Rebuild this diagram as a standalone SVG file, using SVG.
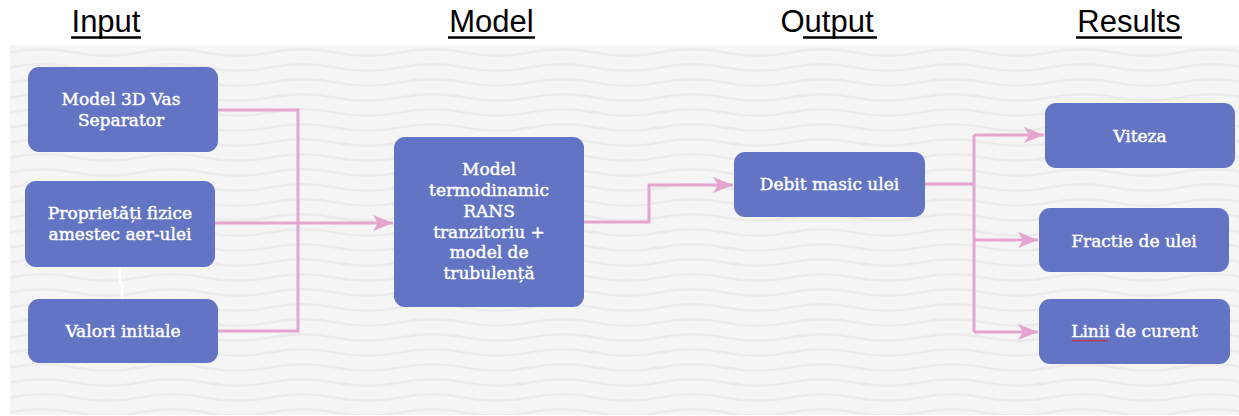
<svg xmlns="http://www.w3.org/2000/svg" width="1239" height="416" viewBox="0 0 1239 416">
  <style>
    .hdr { font-family: "Liberation Sans", Arial, sans-serif; font-size: 31px; fill: #000; text-anchor: middle; }
    .ul { stroke: #000; stroke-width: 2.5; }
    .box { fill: #6274c3; }
    .lbl { font-family: "DejaVu Serif", "Liberation Serif", serif; font-size: 17px; fill: #fff; stroke: #fff; stroke-width: 0.45; text-anchor: middle; }
    .conn { fill: none; stroke: #e4a5cf; stroke-width: 3; }
  </style>
  <defs>
    <pattern id="waves" patternUnits="userSpaceOnUse" x="10" y="45" width="130" height="15">
      <path d="M0 7.5 C 22 3, 43 3, 65 7.5 S 108 12, 130 7.5" fill="none" stroke="#ebebeb" stroke-width="2.5"/>
    </pattern>
    <marker id="arr" markerUnits="userSpaceOnUse" markerWidth="22" markerHeight="18" refX="20" refY="8" orient="auto">
      <path d="M0 0 L20 8 L0 16 L5 8 Z" fill="#e4a5cf"/>
    </marker>
  </defs>

  <rect x="0" y="0" width="1239" height="416" fill="#ffffff"/>
  <rect x="10" y="45" width="1229" height="370" fill="#f5f5f5"/>
  <rect x="10" y="45" width="1229" height="370" fill="url(#waves)"/>

  <g id="headers">
    <text class="hdr" x="106" y="32">Input</text>
    <line class="ul" x1="71" y1="37.5" x2="141" y2="37.5"/>
    <text class="hdr" x="491.5" y="32">Model</text>
    <line class="ul" x1="448" y1="37.5" x2="535" y2="37.5"/>
    <text class="hdr" x="827" y="32">Output</text>
    <line class="ul" x1="803" y1="37.5" x2="877" y2="37.5"/>
    <text class="hdr" x="1129" y="32">Results</text>
    <line class="ul" x1="1076" y1="37.5" x2="1182" y2="37.5"/>
  </g>

  <g id="connectors">
    <path class="conn" d="M218 110 H298 V331 H218"/>
    <path class="conn" d="M215 223 H393" marker-end="url(#arr)"/>
    <path class="conn" d="M584 222 H649 V185 H733" marker-end="url(#arr)"/>
    <path class="conn" d="M925 184 H974"/>
    <path class="conn" d="M974 135 V332"/>
    <path class="conn" d="M974 135 H1044" marker-end="url(#arr)"/>
    <path class="conn" d="M974 240 H1038" marker-end="url(#arr)"/>
    <path class="conn" d="M974 332 H1038" marker-end="url(#arr)"/>
    <path d="M119.5 267 V282 L122 283.5 V299" fill="none" stroke="#ffffff" stroke-width="3"/>
  </g>

  <g id="node-model3d">
    <rect class="box" x="28" y="67" width="190" height="85" rx="11"/>
    <text class="lbl" x="121" y="105">Model 3D Vas</text>
    <text class="lbl" x="121" y="126">Separator</text>
  </g>

  <g id="node-proprietati">
    <rect class="box" x="25" y="181" width="190" height="86" rx="11"/>
    <text class="lbl" x="120" y="219">Proprietăți fizice</text>
    <text class="lbl" x="120" y="240">amestec aer-ulei</text>
  </g>

  <g id="node-valori">
    <rect class="box" x="28" y="299" width="190" height="64" rx="11"/>
    <text class="lbl" x="123" y="337">Valori initiale</text>
  </g>

  <g id="node-model">
    <rect class="box" x="394" y="137" width="190" height="170" rx="11"/>
    <text class="lbl" x="489" y="175">Model</text>
    <text class="lbl" x="489" y="196">termodinamic</text>
    <text class="lbl" x="489" y="217">RANS</text>
    <text class="lbl" x="489" y="238">tranzitoriu +</text>
    <text class="lbl" x="489" y="258">model de</text>
    <text class="lbl" x="489" y="279">trubulență</text>
  </g>

  <g id="node-debit">
    <rect class="box" x="734" y="152" width="191" height="65" rx="11"/>
    <text class="lbl" x="829.5" y="190">Debit masic ulei</text>
  </g>

  <g id="node-viteza">
    <rect class="box" x="1045" y="103" width="190" height="65" rx="11"/>
    <text class="lbl" x="1140" y="142">Viteza</text>
  </g>

  <g id="node-fractie">
    <rect class="box" x="1039" y="208" width="190" height="64" rx="11"/>
    <text class="lbl" x="1134" y="247">Fractie de ulei</text>
  </g>

  <g id="node-linii">
    <rect class="box" x="1039" y="299" width="191" height="65" rx="11"/>
    <text class="lbl" x="1134.5" y="337">Linii de curent</text>
    <path d="M1072 341.5 l2 -1.5 l2 1.5 l2 -1.5 l2 1.5 l2 -1.5 l2 1.5 l2 -1.5 l2 1.5 l2 -1.5 l2 1.5 l2 -1.5 l2 1.5 l2 -1.5 l2 1.5 l2 -1.5 l2 1.5 l2 -1.5 l2 1.5" fill="none" stroke="#d9232e" stroke-width="1"/>
  </g>
</svg>
